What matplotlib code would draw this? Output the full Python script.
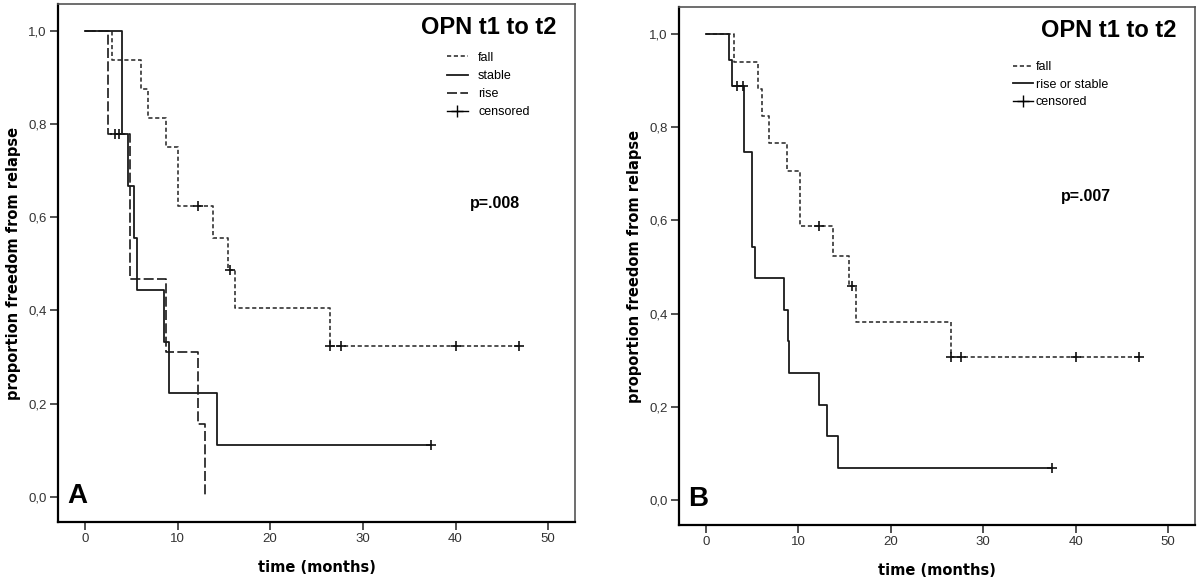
import matplotlib
matplotlib.use('Agg')
import matplotlib.pyplot as plt
from matplotlib.lines import Line2D


# panel A: OPN t1 to t2, three groups
a_fall_t = [0, 2.9, 6.1, 6.8, 8.8, 10.1, 13.8, 15.5, 16.2, 26.5, 46.8]
a_fall_s = [1.0, 0.938, 0.875, 0.813, 0.75, 0.625, 0.556, 0.486, 0.405, 0.324, 0.324]
a_fall_ct = [12.2, 15.7, 26.5, 27.6, 40.0, 46.8]
a_fall_cs = [0.625, 0.486, 0.324, 0.324, 0.324, 0.324]

a_stable_t = [0, 4.0, 4.7, 5.3, 5.6, 8.5, 9.05, 14.3, 37.4]
a_stable_s = [1.0, 0.778, 0.667, 0.556, 0.444, 0.333, 0.222, 0.111, 0.111]
a_stable_ct = [37.4]
a_stable_cs = [0.111]

a_rise_t = [0, 2.5, 4.85, 8.8, 12.2, 13.0]
a_rise_s = [1.0, 0.778, 0.467, 0.311, 0.156, 0.0]
a_rise_ct = [3.3, 3.7]
a_rise_cs = [0.778, 0.778]

# panel B: fall vs rise or stable
b_fall_t = [0, 3.0, 5.6, 6.1, 6.8, 8.8, 10.2, 13.8, 15.5, 16.2, 26.5, 46.8]
b_fall_s = [1.0, 0.941, 0.882, 0.824, 0.765, 0.706, 0.588, 0.523, 0.458, 0.382, 0.306, 0.306]
b_fall_ct = [12.2, 15.8, 26.5, 27.6, 40.0, 46.8]
b_fall_cs = [0.588, 0.458, 0.306, 0.306, 0.306, 0.306]

b_rs_t = [0, 2.5, 2.8, 4.1, 4.95, 5.3, 8.5, 8.9, 9.05, 12.2, 13.1, 14.3, 37.4]
b_rs_s = [1.0, 0.944, 0.889, 0.747, 0.543, 0.476, 0.408, 0.340, 0.272, 0.204, 0.136, 0.068, 0.068]
b_rs_ct = [3.4, 4.0, 37.4]
b_rs_cs = [0.889, 0.889, 0.068]

x_ticks = [0, 10, 20, 30, 40, 50]
y_ticks = [0.0, 0.2, 0.4, 0.6, 0.8, 1.0]
y_ticklabels = ['0,0', '0,2', '0,4', '0,6', '0,8', '1,0']

FALL = dict(color='#333333', lw=1.2, ls=(0, (2.5, 1.6)))
SOLID = dict(color='#1a1a1a', lw=1.3, ls='-')
RISE = dict(color='#1a1a1a', lw=1.2, ls=(0, (6, 2)))


def curve(ax, t, s, ct, cs, style):
  ax.step(t, s, where='post', **style)
  ax.plot(ct, cs, ls='none', marker='+', ms=7.5, mew=1.2, color='#111111')


def setupAxes(ax, letter, pval, ptext_x, ptext_y):
  ax.set_xlim(-2.9, 52.9)
  ax.set_ylim(-0.054, 1.058)
  ax.set_xticks(x_ticks)
  ax.set_xticklabels([str(x) for x in x_ticks], fontsize=9.5, color='#333333',
                     family='Liberation Sans')
  ax.set_yticks(y_ticks)
  ax.set_yticklabels(y_ticklabels, fontsize=9.5, color='#333333', family='Liberation Sans')
  ax.tick_params(direction='out', length=6, width=1.1, color='#222222', pad=2)
  for side in ['left', 'bottom']:
    ax.spines[side].set_color('black')
    ax.spines[side].set_linewidth(1.6)
  for side in ['top', 'right']:
    ax.spines[side].set_color('#555555')
    ax.spines[side].set_linewidth(1.2)
  ax.set_xlabel('time (months)', fontsize=10.5, fontweight='bold', family='DejaVu Sans',
                labelpad=11)
  ax.set_ylabel('proportion freedom from relapse', fontsize=10.5, fontweight='bold',
                family='DejaVu Sans', labelpad=5)
  ax.text(0.965, 0.955, 'OPN t1 to t2', transform=ax.transAxes, ha='right', va='center',
          fontsize=17, fontweight='bold', family='Liberation Sans')
  ax.text(ptext_x, ptext_y, pval, transform=ax.transAxes, ha='left', va='center',
          fontsize=11.5, fontweight='bold', family='Liberation Sans')
  ax.text(0.018, 0.05, letter, transform=ax.transAxes, ha='left', va='center',
          fontsize=20, fontweight='bold', family='Liberation Sans')


fig = plt.figure(figsize=(12, 5.85), dpi=100)
axA = fig.add_axes([0.0483, 0.108, 0.4309, 0.885])
axB = fig.add_axes([0.5658, 0.1026, 0.4300, 0.8854])

curve(axA, a_fall_t, a_fall_s, a_fall_ct, a_fall_cs, FALL)
curve(axA, a_rise_t, a_rise_s, a_rise_ct, a_rise_cs, RISE)
curve(axA, a_stable_t, a_stable_s, a_stable_ct, a_stable_cs, SOLID)
setupAxes(axA, 'A', 'p=.008', 0.797, 0.614)

curve(axB, b_fall_t, b_fall_s, b_fall_ct, b_fall_cs, FALL)
curve(axB, b_rs_t, b_rs_s, b_rs_ct, b_rs_cs, SOLID)
setupAxes(axB, 'B', 'p=.007', 0.74, 0.635)

cens = Line2D([], [], color='black', lw=1.0, marker='+', ms=9, mew=1.0)
hA = [Line2D([], [], **FALL), Line2D([], [], **SOLID), Line2D([], [], **RISE), cens]
axA.legend(hA, ['fall', 'stable', 'rise', 'censored'], loc='upper left',
           bbox_to_anchor=(0.752, 0.908), frameon=False, handlelength=1.7,
           handletextpad=0.8, labelspacing=0.5, borderpad=0, borderaxespad=0,
           prop={'family': 'Liberation Sans', 'size': 9})
hB = [Line2D([], [], **FALL), Line2D([], [], **SOLID), cens]
axB.legend(hB, ['fall', 'rise or stable', 'censored'], loc='upper left',
           bbox_to_anchor=(0.647, 0.896), frameon=False, handlelength=1.6,
           handletextpad=0.25, labelspacing=0.45, borderpad=0, borderaxespad=0,
           prop={'family': 'Liberation Sans', 'size': 9})

fig.savefig('out.png', dpi=100)
